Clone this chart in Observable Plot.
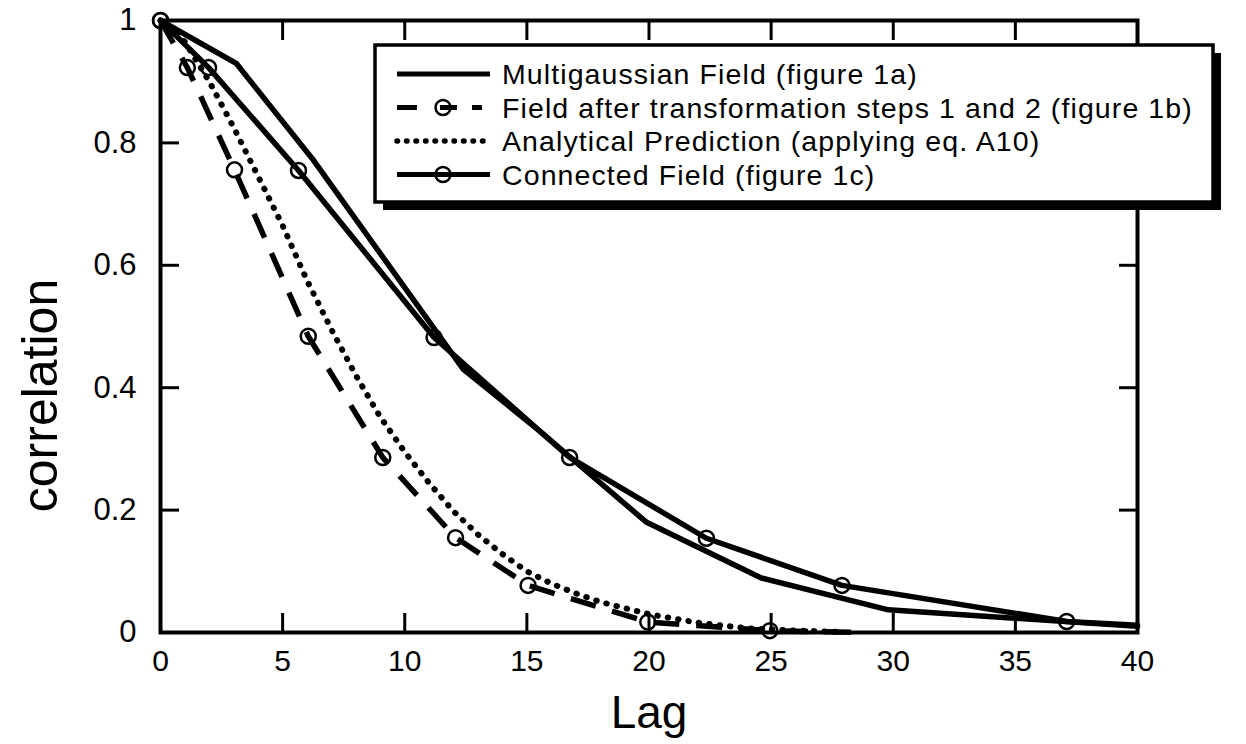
<!DOCTYPE html>
<html><head><meta charset="utf-8">
<script src="https://cdn.jsdelivr.net/npm/d3@7"></script>
<script src="https://cdn.jsdelivr.net/npm/@observablehq/plot@0.6"></script>
<style>
html,body{margin:0;padding:0;background:#fff;}
#wrap{position:relative;width:1246px;height:744px;font-family:"Liberation Sans",Arial,Helvetica,sans-serif;}
#wrap svg{display:block;}
#legend{position:absolute;left:0;top:0;pointer-events:none;}
</style></head><body><div id="wrap"></div>
<script>
// ---- data ----
const seriesNames = [
  "Multigaussian Field (figure 1a)",
  "Field after transformation steps 1 and 2 (figure 1b)",
  "Analytical Prediction (applying eq. A10)",
  "Connected Field (figure 1c)"
];
const multigaussianLag  = [0, 3.1, 6.2, 12.4, 15.5, 19.9, 24.6, 29.8, 40];
const multigaussianCorr = [1, 0.93, 0.775, 0.43, 0.33, 0.18, 0.089, 0.037, 0.01];

const transformedLag  = [0, 1.1, 3.03, 6.05, 9.1, 12.08, 15.05, 19.95, 24.95, 28.8];
const transformedCorr = [1, 0.923, 0.756, 0.484, 0.286, 0.155, 0.077, 0.017, 0.003, 0.0];
const transformedMarked = [true, true, true, true, true, true, true, true, true, false];

const analyticalLag  = [0, 1, 2, 3, 4, 5, 6, 7, 8, 9, 10, 11, 12, 13, 14, 15, 16, 17, 18, 19, 20, 22, 24, 26, 28];
const analyticalCorr = [1, 0.965, 0.9, 0.825, 0.745, 0.665, 0.575, 0.495, 0.42, 0.352, 0.295, 0.244, 0.198, 0.16, 0.128, 0.1, 0.08, 0.064, 0.05, 0.04, 0.03, 0.016, 0.007, 0.003, 0.001];

const connectedLag  = [0, 1.97, 5.65, 11.2, 16.75, 22.35, 27.9, 37.1, 40];
const connectedCorr = [1, 0.923, 0.755, 0.482, 0.286, 0.154, 0.077, 0.018, 0.012];
const connectedMarked = [true, true, true, true, true, true, true, true, false];

const xTicks = [0, 5, 10, 15, 20, 25, 30, 35, 40];
const yTicks = [0, 0.2, 0.4, 0.6, 0.8, 1];
const xInnerTicks = [5, 10, 15, 20, 25, 30, 35];
const yInnerTicks = [0.2, 0.4, 0.6, 0.8];

// ---- tables ----
const toRows = (lags, corrs, marked) => lags.map((lag, i) => ({lag, corr: corrs[i], marked: marked ? marked[i] : false}));
const multigaussian = toRows(multigaussianLag, multigaussianCorr);
const transformed = toRows(transformedLag, transformedCorr, transformedMarked);
const analytical = toRows(analyticalLag, analyticalCorr);
const connected = toRows(connectedLag, connectedCorr, connectedMarked);

const FONT = "Liberation Sans, Arial, Helvetica, sans-serif";
const NARROW = "Liberation Sans Narrow, Arial Narrow, Liberation Sans, sans-serif";
const tickStyle = {tickSize: -19, strokeWidth: 3, tickFormat: () => "", label: null};

const chart = Plot.plot({
  width: 1246, height: 744,
  marginLeft: 160, marginRight: 109, marginTop: 20, marginBottom: 112,
  style: {fontFamily: FONT, background: "#fff", color: "#000", overflow: "visible"},
  x: {domain: [0, 40]},
  y: {domain: [0, 1]},
  marks: [
    Plot.line(analytical, {x: "lag", y: "corr", stroke: "#000", strokeWidth: 6, strokeDasharray: "0.5,10", strokeLinecap: "round"}),
    Plot.line(transformed, {x: "lag", y: "corr", stroke: "#000", strokeWidth: 5.5, strokeDasharray: "26,17", strokeLinecap: "butt"}),
    Plot.line(multigaussian, {x: "lag", y: "corr", stroke: "#000", strokeWidth: 5.5, strokeLinejoin: "miter"}),
    Plot.line(connected, {x: "lag", y: "corr", stroke: "#000", strokeWidth: 5.5, strokeLinejoin: "miter"}),
    Plot.dot(transformed.filter(d => d.marked), {x: "lag", y: "corr", r: 7.5, stroke: "#000", strokeWidth: 2.5, fill: "none"}),
    Plot.dot(connected.filter(d => d.marked), {x: "lag", y: "corr", r: 7.5, stroke: "#000", strokeWidth: 2.5, fill: "none"}),
    Plot.frame({stroke: "#000", strokeWidth: 4}),
    Plot.axisX(xInnerTicks, {anchor: "bottom", ...tickStyle}),
    Plot.axisX(xInnerTicks, {anchor: "top", ...tickStyle}),
    Plot.axisY(yInnerTicks, {anchor: "left", ...tickStyle}),
    Plot.axisY(yInnerTicks, {anchor: "right", ...tickStyle}),
    Plot.axisX(xTicks, {anchor: "bottom", tickSize: 0, tickPadding: 17, fontSize: 30, tickFormat: d => String(d), label: null}),
    Plot.axisY(yTicks, {anchor: "left", tickSize: 0, tickPadding: 24, fontSize: 31, tickFormat: d => String(d), label: null}),
    Plot.text(["Lag"], {frameAnchor: "bottom", textAnchor: "middle", lineAnchor: "middle", dy: 81, fontSize: 46, fontFamily: NARROW, fill: "#000"}),
    Plot.text(["correlation"], {frameAnchor: "left", textAnchor: "middle", lineAnchor: "middle", dx: -120, dy: 69, rotate: -90, fontSize: 50, fill: "#000"})
  ]
});

const wrap = document.getElementById("wrap");
wrap.appendChild(chart);

// ---- legend overlay (inside the plot frame, top right) ----
const lg = d3.select(wrap).append("svg").attr("id", "legend")
  .attr("width", 1246).attr("height", 744)
  .attr("font-family", FONT);
const box = {x: 375, y: 45, w: 838, h: 157};
lg.append("rect").attr("x", box.x + 8).attr("y", box.y + 8).attr("width", box.w).attr("height", box.h).attr("fill", "#000");
lg.append("rect").attr("x", box.x).attr("y", box.y).attr("width", box.w).attr("height", box.h)
  .attr("fill", "#fff").attr("stroke", "#000").attr("stroke-width", 3.5);
const rowY = [74, 107.5, 141, 174.5];
const sx0 = 397, sx1 = 490, cx = 443;
const sampleStyles = [
  {dash: null, width: 5, cap: "butt", circle: false},
  {dash: "20,23,17,15,10,100", width: 5, cap: "butt", circle: true},
  {dash: "0.5,9", width: 5.5, cap: "round", circle: false},
  {dash: null, width: 5, cap: "butt", circle: true}
];
seriesNames.forEach((name, i) => {
  const s = sampleStyles[i];
  const ln = lg.append("line").attr("x1", sx0).attr("x2", sx1).attr("y1", rowY[i]).attr("y2", rowY[i])
    .attr("stroke", "#000").attr("stroke-width", s.width).attr("stroke-linecap", s.cap);
  if (s.dash) ln.attr("stroke-dasharray", s.dash);
  if (s.circle) lg.append("circle").attr("cx", cx).attr("cy", rowY[i]).attr("r", 7.5)
    .attr("fill", "none").attr("stroke", "#000").attr("stroke-width", 2.5);
  lg.append("text").attr("x", 502).attr("y", rowY[i]).attr("dy", "0.36em")
    .attr("font-size", 28.5).attr("letter-spacing", "1.1px").attr("fill", "#000").text(name);
});
</script>
</body></html>
